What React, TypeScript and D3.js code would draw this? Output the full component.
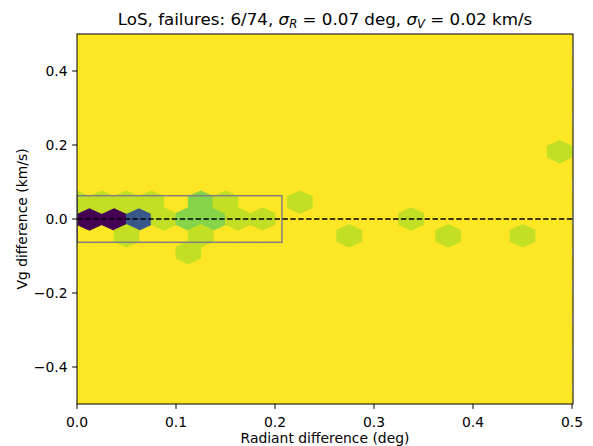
import React from "react";
import * as d3 from "d3";

// Non-empty hexbin cells (centre x, centre y, count)
const cellX = [0.0125, 0.0375, 0.0625, 0.0875, 0.1125, 0.1375, 0.1625, 0.1875, 0.3375, 0.4875, 0.1125,
  0.0, 0.025, 0.05, 0.075, 0.125, 0.15, 0.225,
  0.05, 0.125, 0.275, 0.375, 0.45];
const cellY = [0, 0, 0, 0, 0, 0, 0, 0, 0, 0.1818, -0.0909,
  0.0455, 0.0455, 0.0455, 0.0455, 0.0455, 0.0455, 0.0455,
  -0.0455, -0.0455, -0.0455, -0.0455, -0.0455];
const cellCount = [11, 11, 8, 1, 2, 2, 1, 1, 1, 1, 1,
  1, 1, 1, 1, 2, 1, 1,
  1, 1, 1, 1, 1];
const maxCount = 11;

const xTicks = [0.0, 0.1, 0.2, 0.3, 0.4, 0.5];
const yTicks = [-0.4, -0.2, 0.0, 0.2, 0.4];
const xDomain = [0, 0.5];
const yDomain = [-0.5, 0.5];
const gridNx = 20;
const gridNy = 11;
const boxX = [0, 0.207];
const boxY = [-0.063, 0.063];

export default function App() {
  const W = 593, H = 446;
  const left = 77, right = 573, top = 34, bottom = 404;
  const x = d3.scaleLinear().domain(xDomain).range([left, right - 1]);
  const y = d3.scaleLinear().domain(yDomain).range([bottom, top]);
  const sx = (xDomain[1] - xDomain[0]) / gridNx;
  const sy = (yDomain[1] - yDomain[0]) / gridNy;
  const hexVerts = [[0.5, -0.5], [0.5, 0.5], [0, 1], [-0.5, 0.5], [-0.5, -0.5], [0, -1]];
  const hexPath = (cx: number, cy: number) =>
    "M" + hexVerts.map(([a, b]) => `${x(cx + a * sx)},${y(cy + b * sy / 3)}`).join("L") + "Z";

  // full grid of (empty) cells
  const empty: [number, number][] = [];
  for (let i = 0; i <= gridNx; i++)
    for (let j = 0; j <= gridNy; j++) empty.push([xDomain[0] + i * sx, yDomain[0] + j * sy]);
  for (let i = 0; i < gridNx; i++)
    for (let j = 0; j < gridNy; j++) empty.push([xDomain[0] + (i + 0.5) * sx, yDomain[0] + (j + 0.5) * sy]);

  const color = (c: number) => d3.interpolateViridis(1 - c / maxCount);
  const font = "DejaVu Sans, sans-serif";
  const fs = 13.9;

  return (
    <svg width={W} height={H} style={{ position: "absolute", left: 0, top: 0 }} fontFamily={font}>
      <rect x={0} y={0} width={W} height={H} fill="white" />
      <defs>
        <clipPath id="plotclip">
          <rect x={left} y={top} width={right - left} height={bottom - top} />
        </clipPath>
      </defs>
      <g clipPath="url(#plotclip)">
        {empty.map(([cx, cy], k) => (
          <path key={"e" + k} d={hexPath(cx, cy)} fill={color(0)} stroke={color(0)} strokeWidth={1} />
        ))}
        {cellX.map((cx, k) => (
          <path key={"c" + k} d={hexPath(cx, cellY[k])} fill={color(cellCount[k])} stroke={color(cellCount[k])} strokeWidth={1} />
        ))}
        <rect x={x(boxX[0])} y={y(boxY[1])} width={x(boxX[1]) - x(boxX[0])} height={y(boxY[0]) - y(boxY[1])}
          fill="none" stroke="#808080" strokeWidth={1.5} />
        <line x1={left} x2={right} y1={y(0)} y2={y(0)} stroke="black" strokeWidth={1.5} strokeDasharray="5.5,2.4" />
      </g>
      <rect x={left} y={top} width={right - left} height={bottom - top} fill="none" stroke="black" strokeWidth={1} />
      {xTicks.map((t) => (
        <g key={"x" + t}>
          <line x1={x(t)} x2={x(t)} y1={bottom} y2={bottom + 4.9} stroke="black" strokeWidth={1} />
          <text x={x(t)} y={bottom + 23} textAnchor="middle" fontSize={fs} fill="black">{t.toFixed(1)}</text>
        </g>
      ))}
      {yTicks.map((t) => (
        <g key={"y" + t}>
          <line x1={left - 4.9} x2={left} y1={y(t)} y2={y(t)} stroke="black" strokeWidth={1} />
          <text x={left - 9.5} y={y(t) + 5} textAnchor="end" fontSize={fs} fill="black">{t < 0 ? "\u2212" + Math.abs(t).toFixed(1) : t.toFixed(1)}</text>
        </g>
      ))}
      <text x={(left + right) / 2} y={443} textAnchor="middle" fontSize={fs} fill="black">Radiant difference (deg)</text>
      <text transform={`translate(27,${(top + bottom) / 2}) rotate(-90)`} textAnchor="middle" fontSize={fs} fill="black">Vg difference (km/s)</text>
      <text x={(left + right) / 2} y={25} textAnchor="middle" fontSize={16.7} fill="black">
        LoS, failures: 6/74, <tspan fontStyle="italic">σ</tspan><tspan fontStyle="italic" fontSize={11.7} dy={3}>R</tspan>
        <tspan dy={-3}> = 0.07 deg, </tspan><tspan fontStyle="italic">σ</tspan><tspan fontStyle="italic" fontSize={11.7} dy={3}>V</tspan>
        <tspan dy={-3}> = 0.02 km/s</tspan>
      </text>
    </svg>
  );
}
